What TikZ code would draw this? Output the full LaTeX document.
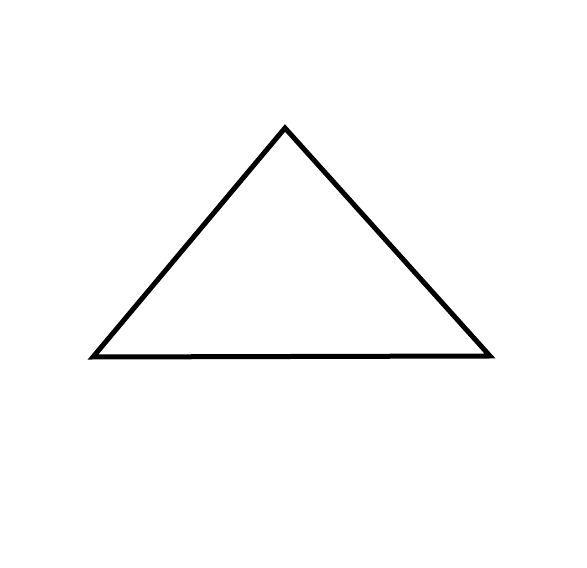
\documentclass[tikz,border=0pt]{standalone}
\usetikzlibrary{positioning}

\begin{document}
\begin{tikzpicture}[
  x=1pt, y=1pt,
  edge/.style={draw=black, line width=5pt, line join=miter}
]

% Canvas
\useasboundingbox (0,0) rectangle (587,568);

% Corners
\coordinate (apex) at (285,440);
\coordinate (left) at (93,211);
\coordinate (right) at (490,212);

% Triangle
\draw[edge] (left) -- (apex) -- (right) -- cycle;

\end{tikzpicture}
\end{document}
